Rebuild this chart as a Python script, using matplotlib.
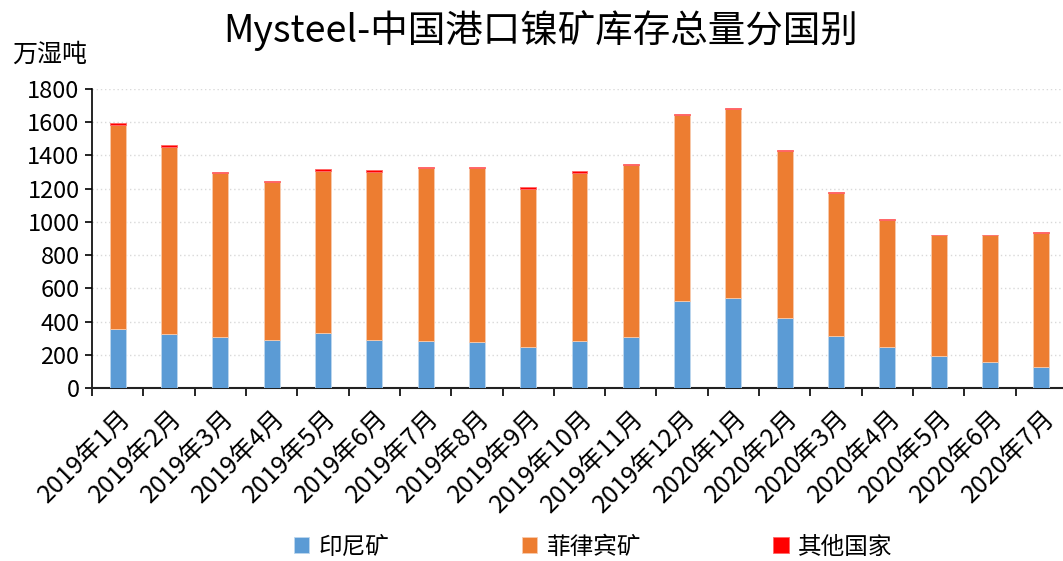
import matplotlib
matplotlib.use("Agg")
import matplotlib.pyplot as plt
import numpy as np

plt.rcParams['font.family'] = ['Noto Sans CJK SC', 'DejaVu Sans']

months = ["2019年1月", "2019年2月", "2019年3月", "2019年4月", "2019年5月", "2019年6月",
          "2019年7月", "2019年8月", "2019年9月", "2019年10月", "2019年11月", "2019年12月",
          "2020年1月", "2020年2月", "2020年3月", "2020年4月", "2020年5月", "2020年6月",
          "2020年7月"]
indonesia = [355, 325, 305, 291, 331, 287, 283, 275, 245, 283, 305, 521, 542, 421, 315, 247, 194, 157, 126]
philippines = [1230, 1128, 987, 947, 973, 1011, 1039, 1047, 953, 1011, 1037, 1124, 1139, 1008, 861, 762, 725, 762, 806]
others = [10, 10, 10, 10, 12, 12, 10, 6, 10, 10, 8, 6, 6, 6, 6, 8, 4, 4, 8]

title = "Mysteel-中国港口镍矿库存总量分国别"
ylabel = "万湿吨"
legend_labels = ["印尼矿", "菲律宾矿", "其他国家"]
colors = ["#5B9BD5", "#ED7D31", "#FF0000"]

fig = plt.figure(figsize=(10.63, 5.61), dpi=100)
W, H = 1063, 561
ax = fig.add_axes([92 / W, 1 - 388 / H, 975 / W, (388 - 89) / H])

x = np.arange(len(months))
w = 0.31
b1 = ax.bar(x, indonesia, w, color=colors[0], edgecolor="#BDD7EE", linewidth=0.6, zorder=3)
b2 = ax.bar(x, philippines, w, bottom=indonesia, color=colors[1], edgecolor="#F8CBAD", linewidth=0.6, zorder=3)
bot2 = np.array(indonesia) + np.array(philippines)
b3 = ax.bar(x, others, w, bottom=bot2, color=colors[2], edgecolor="#FF6666", linewidth=0.6, zorder=3)

ax.set_xlim(-0.5, len(months) - 0.5)
ax.set_ylim(0, 1800)
ax.set_yticks(np.arange(0, 1801, 200))
ax.tick_params(axis='y', labelsize=17, length=5, width=1.2, direction='out', pad=4)
ax.yaxis.grid(True, color="#D9D9D9", linestyle=(0, (1, 2)), linewidth=1.0, zorder=0)

ax.set_xticks(np.arange(-0.5, len(months), 1.0))
ax.set_xticklabels([])
ax.tick_params(axis='x', which='major', length=6, width=1.2, direction='out')
ax.set_xticks(x, minor=True)
ax.set_xticklabels(months, minor=True, rotation=45, ha='right', va='top',
                   rotation_mode='anchor', fontsize=18)
ax.tick_params(axis='x', which='minor', length=0, pad=12)

for s in ['top', 'right']:
    ax.spines[s].set_visible(False)
ax.spines['left'].set_linewidth(1.2)
ax.spines['bottom'].set_linewidth(1.5)
ax.spines['bottom'].set_color("#222222")

fig.text(541 / W, 1 - 30 / H, title, ha='center', va='center', fontsize=27)
fig.text(12 / W, 1 - 55 / H, ylabel, ha='left', va='center', fontsize=18)

fig.legend([b1, b2, b3], legend_labels, loc='center', bbox_to_anchor=(0.558, 1 - 547 / H),
           ncol=3, frameon=False, fontsize=17, handlelength=0.65, handleheight=0.65,
           handletextpad=0.4, columnspacing=5.6)

fig.savefig("out.png", dpi=100)
